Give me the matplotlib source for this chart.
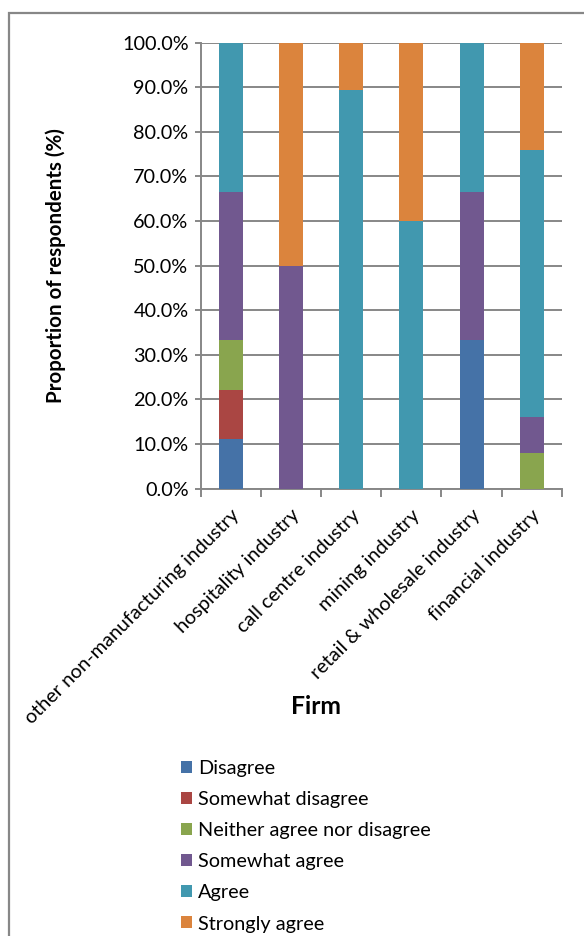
import matplotlib
matplotlib.use("Agg")
import matplotlib.pyplot as plt
import numpy as np
from matplotlib.patches import Patch, Rectangle
from matplotlib.ticker import FuncFormatter, FixedLocator

plt.rcParams['font.family'] = ['Lato', 'DejaVu Sans']

categories = ["other non-manufacturing industry", "hospitality industry",
              "call centre industry", "mining industry",
              "retail & wholesale industry", "financial industry"]
series_names = ["Disagree", "Somewhat disagree", "Neither agree nor disagree",
                "Somewhat agree", "Agree", "Strongly agree"]
disagree = [11.1, 0, 0, 0, 33.3, 0]
somewhat_disagree = [11.1, 0, 0, 0, 0, 0]
neither = [11.1, 0, 0, 0, 0, 8.0]
somewhat_agree = [33.3, 50.0, 0, 0, 33.3, 8.0]
agree = [33.3, 0, 89.3, 60.0, 33.3, 60.0]
strongly_agree = [0, 50.0, 10.7, 40.0, 0, 24.0]
colors = ["#4572A7", "#AA4643", "#89A54E", "#71588F", "#4198AF", "#DB843D"]

W, H = 584, 936
fig = plt.figure(figsize=(W / 100, H / 100), dpi=100)
ax = fig.add_axes([201 / W, 1 - 488.5 / H, (561.7 - 201) / W, (488.5 - 42.7) / H])

x = np.arange(len(categories))
bottom = np.zeros(len(categories))
for name, vals, c in zip(series_names,
                         [disagree, somewhat_disagree, neither, somewhat_agree, agree, strongly_agree],
                         colors):
    v = np.array(vals, dtype=float)
    ax.bar(x, v, 0.4, bottom=bottom, color=c, label=name, zorder=3)
    bottom += v

grid_c = "#878787"
tick_fs = 14.3
ax.set_xlim(-0.5, len(categories) - 0.5)
ax.set_ylim(0, 100)
ax.set_yticks(np.arange(0, 101, 10))
ax.yaxis.set_major_formatter(FuncFormatter(lambda v, p: f"{v:.1f}%"))
ax.grid(axis='y', color=grid_c, linewidth=1.4, zorder=0)
ax.set_axisbelow(True)
for s in ['top', 'right']:
    ax.spines[s].set_visible(False)
for s in ['left', 'bottom']:
    ax.spines[s].set_color(grid_c)
    ax.spines[s].set_linewidth(1.4)
ax.tick_params(axis='y', length=4, width=1.4, color=grid_c, labelsize=tick_fs, pad=5)

ax.set_xticks(x)
ax.set_xticklabels(categories, rotation=45, ha='right', rotation_mode='anchor', fontsize=tick_fs)
ax.tick_params(axis='x', which='major', length=0, pad=13)
ax.xaxis.set_minor_locator(FixedLocator(np.arange(-0.5, len(categories), 1.0)))
ax.tick_params(axis='x', which='minor', length=6, width=1.4, color=grid_c)

fig.text(56 / W, 1 - 266 / H, "Proportion of respondents (%)", rotation=90,
         ha='center', va='center', fontsize=14.8, fontweight='bold')
fig.text(316 / W, 1 - 707 / H, "Firm", ha='center', va='center', fontsize=17.8, fontweight='bold')

handles = [Patch(facecolor=c, edgecolor='none') for c in colors]
fig.legend(handles, series_names, loc='upper left',
           bbox_to_anchor=(181 / W, 1 - 760 / H), frameon=False, fontsize=tick_fs,
           handlelength=0.55, handleheight=0.55, handletextpad=0.3,
           labelspacing=0.71, borderpad=0, borderaxespad=0)

fig.patches.append(Rectangle((8.5 / W, -0.1), 1.2, 1 - 12.7 / H + 0.1,
                             transform=fig.transFigure, fill=False,
                             edgecolor=grid_c, linewidth=1.6))

fig.savefig("out.png", dpi=100)
